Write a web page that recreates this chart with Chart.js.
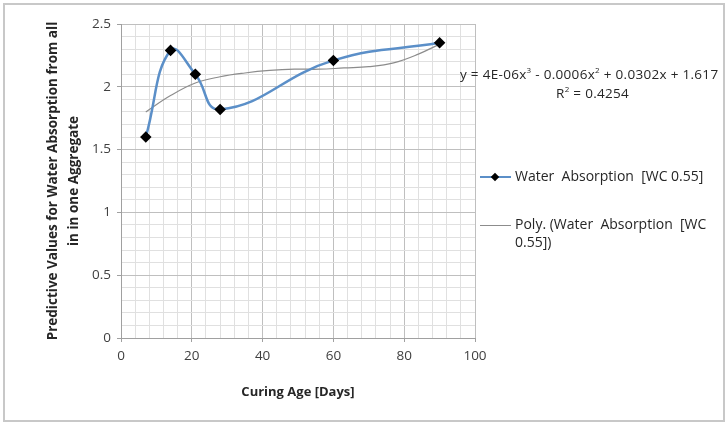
<!DOCTYPE html>
<html>
<head>
<meta charset="utf-8">
<script src="https://cdn.jsdelivr.net/npm/chart.js@4.4.1/dist/chart.umd.min.js"></script>
<style>
  body { margin: 0; background: #fff; font-family: "Open Sans", sans-serif; }
  #wrap { position: relative; width: 728px; height: 424px; }
  #frame { position: absolute; left: 3px; top: 3px; width: 718px; height: 415px; border: 2px solid #c8c8c8; }
  canvas { position: absolute; left: 0; top: 0; }
  .txt { position: absolute; color: #262626; font-size: 13.5px; letter-spacing: 0.3px; white-space: nowrap; }
  .leg { position: absolute; left: 480px; font-size: 14px; color: #262626; }
  .leg .ln { position: absolute; left: 0; width: 31px; top: 0; }
  .leg .tx { position: absolute; left: 35px; top: -10px; line-height: 18px; white-space: nowrap; }
  .dia { position: absolute; left: 12px; top: -3px; width: 6px; height: 6px; background: #000; transform: rotate(45deg); }
</style>
</head>
<body>
<div id="wrap">
  <div id="frame"></div>
  <canvas id="chart" width="728" height="424"></canvas>
  <div class="txt" style="left:460px; top:64px;">y = 4E-06x<sup style="font-size:8px">3</sup> - 0.0006x<sup style="font-size:8px">2</sup> + 0.0302x + 1.617</div>
  <div class="txt" style="left:556px; top:83px;">R<sup style="font-size:8px">2</sup> = 0.4254</div>
  <div class="leg" style="top:177px;">
    <div class="ln" style="border-top:2px solid #5b8fc8; top:-1px;"></div>
    <div class="dia"></div>
    <div class="tx">Water&nbsp; Absorption&nbsp; [WC 0.55]</div>
  </div>
  <div class="leg" style="top:225px;">
    <div class="ln" style="border-top:1px solid #8c8c8c;"></div>
    <div class="tx">Poly. (Water&nbsp; Absorption&nbsp; [WC<br>0.55])</div>
  </div>
</div>
<script>
// measured points
const curingDays = [7, 14, 21, 28, 60, 90];
const waterAbsorption = [1.6, 2.29, 2.1, 1.82, 2.21, 2.35];

// polynomial trendline
const trendDays = [7, 14, 21, 28, 35, 42, 49, 56, 63, 70, 77, 84, 90];
const trendValues = [1.80, 1.93, 2.03, 2.08, 2.11, 2.13, 2.14, 2.14, 2.15, 2.16, 2.19, 2.26, 2.34];

const xTickLabels = [0, 20, 40, 60, 80, 100];
const yTickLabels = [0, 0.5, 1, 1.5, 2, 2.5];

const toXY = (xs, ys) => xs.map((x, i) => ({ x: x, y: ys[i] }));
const isMajorX = v => xTickLabels.includes(Math.round(v));
const isMajorY = v => yTickLabels.includes(Math.round(v * 10) / 10);

let ctx = document.getElementById('chart').getContext('2d');
let chart = new Chart(ctx, {
  type: 'scatter',
  data: {
    datasets: [
      {
        label: 'Water Absorption [WC 0.55]',
        data: toXY(curingDays, waterAbsorption),
        showLine: true,
        borderColor: '#5b8fc8',
        borderWidth: 2.5,
        tension: 0.45,
        pointStyle: 'rectRot',
        pointRadius: 4,
        pointBackgroundColor: '#000',
        pointBorderColor: '#000',
        order: 1
      },
      {
        label: 'Poly. (Water Absorption [WC 0.55])',
        data: toXY(trendDays, trendValues),
        showLine: true,
        borderColor: '#8c8c8c',
        borderWidth: 1.2,
        tension: 0.4,
        pointRadius: 0,
        order: 2
      }
    ]
  },
  options: {
    responsive: false,
    animation: false,
    layout: { padding: { left: 43, right: 253, top: 24, bottom: 24 } },
    plugins: {
      legend: { display: false },
      tooltip: { enabled: false }
    },
    scales: {
      x: {
        type: 'linear',
        min: 0,
        max: 100,
        ticks: {
          stepSize: 4,
          autoSkip: false,
          maxRotation: 0,
          color: '#404040',
          font: { family: 'Open Sans', size: 13.5 },
          padding: 6,
          callback: v => isMajorX(v) ? v : ''
        },
        grid: {
          color: c => isMajorX(c.tick.value) ? '#bfbfbf' : '#e0e0e0',
          tickColor: c => isMajorX(c.tick.value) ? '#a0a0a0' : 'rgba(0,0,0,0)',
          tickLength: 4
        },
        border: { color: '#a0a0a0' },
        title: {
          display: true,
          text: 'Curing Age [Days]',
          color: '#262626',
          font: { family: 'Open Sans', size: 13, weight: 'bold' },
          padding: { top: 0, bottom: 0 }
        },
        afterFit: s => { s.height = 62; }
      },
      y: {
        min: 0,
        max: 2.5,
        ticks: {
          stepSize: 0.1,
          autoSkip: false,
          color: '#404040',
          font: { family: 'Open Sans', size: 13.5 },
          padding: 6,
          callback: v => isMajorY(v) ? Math.round(v * 10) / 10 : ''
        },
        grid: {
          color: c => isMajorY(c.tick.value) ? '#bfbfbf' : '#e0e0e0',
          tickColor: c => isMajorY(c.tick.value) ? '#a0a0a0' : 'rgba(0,0,0,0)',
          tickLength: 4
        },
        border: { color: '#a0a0a0' },
        title: {
          display: true,
          text: ['Predictive Values for Water Absorption from all', 'in in one Aggregate'],
          color: '#262626',
          font: { family: 'Open Sans', size: 13.5, weight: 'bold', lineHeight: 1.55 },
          padding: { top: 0, bottom: 0 }
        },
        afterFit: s => { s.width = 78; }
      }
    }
  }
});
</script>
</body>
</html>
